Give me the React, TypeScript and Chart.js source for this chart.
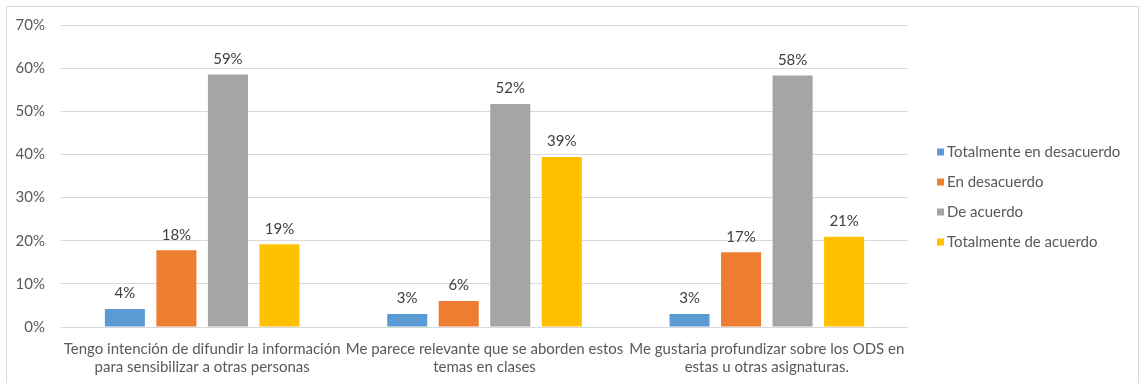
import React, { useEffect, useRef } from "react";
import { Chart, registerables } from "chart.js";

Chart.register(...registerables);

const categories: string[][] = [
  ["Tengo intención de difundir la información", "para sensibilizar a otras personas"],
  ["Me parece relevante que se aborden estos", "temas en clases"],
  ["Me gustaria profundizar sobre los ODS en", "estas u otras asignaturas."],
];
const seriesNames = ["Totalmente en desacuerdo", "En desacuerdo", "De acuerdo", "Totalmente de acuerdo"];
const totalmenteDesacuerdo = [4.2, 3.0, 3.0];
const enDesacuerdo = [17.8, 6.0, 17.3];
const deAcuerdo = [58.5, 51.7, 58.3];
const totalmenteAcuerdo = [19.2, 39.4, 20.9];
const colors = ["#5b9bd5", "#ed7d31", "#a5a5a5", "#ffc000"];
const yTicks = [0, 10, 20, 30, 40, 50, 60, 70];

const FONT = "Lato";
const FSIZE = 15;
const TEXT = "#595959";

const frame = {
  id: "frame",
  beforeDraw(chart: any) {
    const ctx = chart.ctx;
    ctx.save();
    ctx.fillStyle = "#ffffff";
    ctx.fillRect(0, 0, chart.width, chart.height);
    ctx.strokeStyle = "#d9d9d9";
    ctx.lineWidth = 1;
    ctx.strokeRect(6.5, 6.5, chart.width - 13, chart.height - 6);
    ctx.restore();
  },
};

const dataLabels = {
  id: "dataLabels",
  afterDatasetsDraw(chart: any) {
    const ctx = chart.ctx;
    ctx.save();
    ctx.font = `${FSIZE}px ${FONT}`;
    ctx.fillStyle = "#404040";
    ctx.textAlign = "center";
    ctx.textBaseline = "bottom";
    chart.data.datasets.forEach((ds: any, i: number) => {
      const meta = chart.getDatasetMeta(i);
      meta.data.forEach((bar: any, j: number) => {
        ctx.fillText(Math.round(ds.data[j]) + "%", bar.x, bar.y - 8);
      });
    });
    ctx.restore();
  },
};

const sideLegend = {
  id: "sideLegend",
  afterDraw(chart: any) {
    const ctx = chart.ctx;
    const area = chart.chartArea;
    ctx.save();
    ctx.font = `${FSIZE}px ${FONT}`;
    ctx.textBaseline = "middle";
    ctx.textAlign = "left";
    const n = chart.data.datasets.length;
    const step = 30;
    const mid = (area.top + area.bottom) / 2 + 21;
    const startY = mid - ((n - 1) * step) / 2;
    chart.data.datasets.forEach((ds: any, i: number) => {
      const y = startY + i * step;
      const x = area.right + 29;
      ctx.fillStyle = ds.backgroundColor;
      ctx.fillRect(x, y - 3.5, 7, 7);
      ctx.fillStyle = TEXT;
      ctx.fillText(ds.label, x + 10, y + 0.5);
    });
    ctx.restore();
  },
};

export default function App() {
  const ref = useRef<HTMLCanvasElement>(null);
  useEffect(() => {
    document.body.style.margin = "0";
    const seriesData = [totalmenteDesacuerdo, enDesacuerdo, deAcuerdo, totalmenteAcuerdo];
    const chart = new Chart(ref.current!, {
      type: "bar",
      data: {
        labels: categories,
        datasets: seriesNames.map((name, i) => ({
          label: name,
          data: seriesData[i],
          backgroundColor: colors[i],
          categoryPercentage: 0.73,
          barPercentage: 0.777,
        })),
      },
      options: {
        responsive: false,
        animation: false,
        layout: { padding: { left: 0, right: 237, top: 25, bottom: 0 } },
        plugins: {
          legend: { display: false },
          tooltip: { enabled: false },
        },
        scales: {
          x: {
            grid: { display: false },
            border: { display: false },
            ticks: {
              color: TEXT,
              font: { family: FONT, size: FSIZE, lineHeight: 1.2 },
              maxRotation: 0,
              autoSkip: false,
              padding: 5,
            },
            afterFit(scale: any) {
              scale.height = 383 - 327;
            },
          },
          y: {
            min: 0,
            max: 70,
            afterBuildTicks(scale: any) {
              scale.ticks = yTicks.map((v) => ({ value: v }));
            },
            grid: { color: "#d9d9d9", drawTicks: false },
            border: { display: false },
            ticks: {
              color: TEXT,
              font: { family: FONT, size: FSIZE },
              padding: 16,
              callback: (v: any) => v + "%",
            },
            afterFit(scale: any) {
              scale.width = 61;
            },
          },
        },
      },
      plugins: [frame, dataLabels, sideLegend],
    });
    return () => chart.destroy();
  }, []);
  return <canvas ref={ref} width={1145} height={383} style={{ display: "block" }} />;
}
